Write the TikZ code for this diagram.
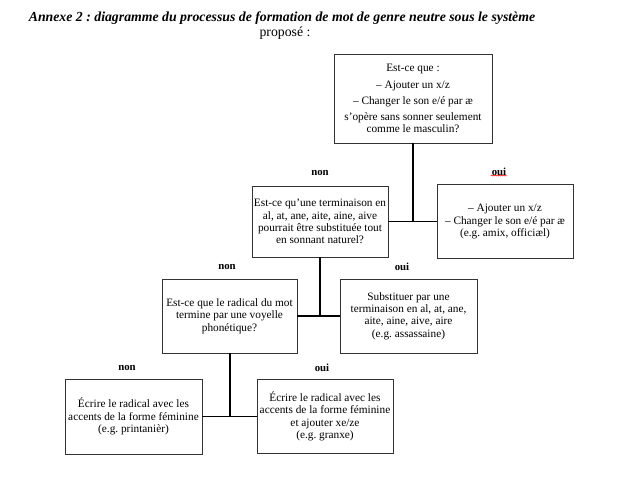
\documentclass[tikz,border=0pt]{standalone}
\usepackage{fontspec}
\setmainfont{Liberation Serif}
\frenchspacing
\usetikzlibrary{shadows,decorations.pathmorphing}
\begin{document}
\begin{tikzpicture}[x=1pt,y=-1pt,
  box/.style={draw=black!80, line width=0.7pt, fill=white, align=center,
    font=\fontsize{11.3}{12.3}\selectfont, inner sep=1pt,
    drop shadow={shadow xshift=0.9pt, shadow yshift=-0.9pt, fill=black!45, opacity=0.8}},
  conn/.style={line width=1.8pt, draw=black},
  lab/.style={font=\fontsize{10.8}{12}\selectfont\bfseries, inner sep=1pt}]
\fill[white] (0,0) rectangle (630,500);
\useasboundingbox (0,0) rectangle (630,500);

\node[font=\fontsize{13.8}{15}\selectfont\bfseries\itshape, inner sep=0pt] (title) at (282,18)
  {Annexe 2 : diagramme du processus de formation de mot de genre neutre sous le système};
\node[font=\fontsize{13.8}{15}\selectfont, inner sep=0pt] (prop) at (285,33) {proposé :};

\node[box, minimum width=158pt, minimum height=89pt] (b1) at (413,98.5)
  {Est-ce que :\\[4pt] – Ajouter un x/z\\[4pt] – Changer le son e/é par æ\\[4pt]
   s’opère sans sonner seulement\\[-0.5pt] comme le masculin?};
\node[box, minimum width=136pt, minimum height=71pt] (b2) at (320,221.5)
  {Est-ce qu’une terminaison en\\ al, at, ane, aite, aine, aive\\ pourrait être substituée tout\\ en sonnant naturel?};
\node[box, minimum width=136pt, minimum height=74pt] (b3) at (505,221.5)
  {– Ajouter un x/z\\ – Changer le son e/é par æ\\ (e.g. amix, officiæl)};
\node[box, minimum width=135pt, minimum height=74pt] (b4) at (229.5,316)
  {Est-ce que le radical du mot\\ termine par une voyelle\\ phonétique?};
\node[box, minimum width=137pt, minimum height=74pt] (b5) at (408.5,316)
  {Substituer par une\\ terminaison en al, at, ane,\\ aite, aine, aive, aire\\ (e.g. assassaine)};
\node[box, minimum width=137pt, minimum height=75pt] (b6) at (133.5,416.5)
  {Écrire le radical avec les\\ accents de la forme féminine\\ (e.g. printanièr)};
\node[box, minimum width=136pt, minimum height=74pt] (b7) at (325,416.5)
  {Écrire le radical avec les\\ accents de la forme féminine\\ et ajouter xe/ze\\ (e.g. granxe)};

\draw[conn] (b1.south) -- (b1.south |- b2.east);
\draw[conn] (b2.east) -- (b3.west);
\draw[conn] (b2.south) -- (b2.south |- b4.east);
\draw[conn] (b4.east) -- (b5.west);
\coordinate (b4s) at ([xshift=0.5pt]b4.south);
\draw[conn] (b4s) -- (b4s |- b6.east);
\draw[conn] (b6.east) -- (b7.west);

\node[lab] (n1) at (320,173) {non};
\node[lab] (o1) at (499,172) {oui};
\draw[red, line width=0.4pt, decorate, decoration={snake, amplitude=0.6pt, segment length=2pt}]
  ([yshift=1.5pt]o1.south west) -- ([yshift=1.5pt]o1.south east);
\node[lab] (n2) at (227,267) {non};
\node[lab] (o2) at (402,267) {oui};
\node[lab] (n3) at (127,368) {non};
\node[lab] (o3) at (322,368) {oui};
\end{tikzpicture}
\end{document}
